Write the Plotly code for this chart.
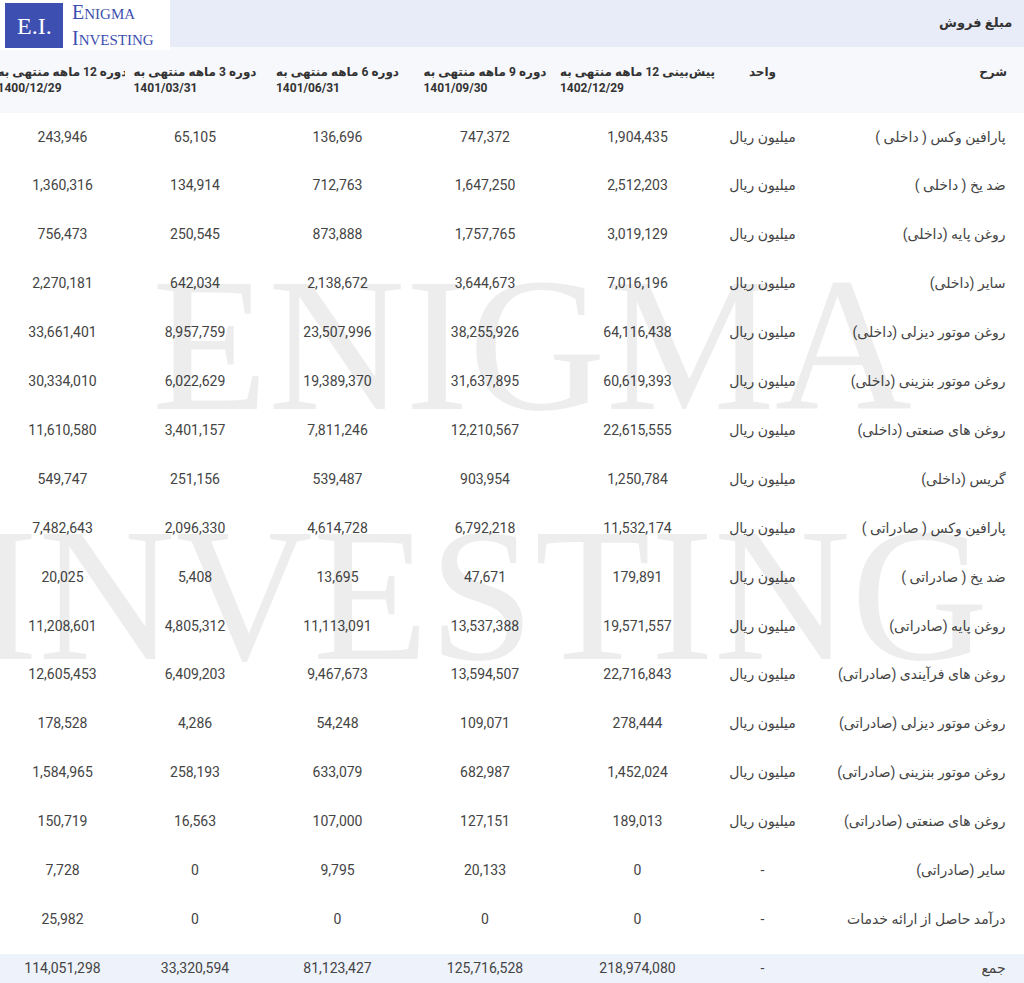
import plotly.graph_objects as go

W, H = 1024, 983

descriptions = [
    "پارافین وکس ( داخلی )", "ضد یخ ( داخلی )", "روغن پایه (داخلی)", "سایر (داخلی)",
    "روغن موتور دیزلی (داخلی)", "روغن موتور بنزینی (داخلی)", "روغن های صنعتی (داخلی)",
    "گریس (داخلی)", "پارافین وکس ( صادراتی )", "ضد یخ ( صادراتی )", "روغن پایه (صادراتی)",
    "روغن های فرآیندی (صادراتی)", "روغن موتور دیزلی (صادراتی)", "روغن موتور بنزینی (صادراتی)",
    "روغن های صنعتی (صادراتی)", "سایر (صادراتی)", "درآمد حاصل از ارائه خدمات", "جمع",
]
units = ["میلیون ریال"] * 15 + ["-", "-", "-"]
forecast_1402 = [1904435, 2512203, 3019129, 7016196, 64116438, 60619393, 22615555, 1250784,
                 11532174, 179891, 19571557, 22716843, 278444, 1452024, 189013, 0, 0, 218974080]
m9_1401 = [747372, 1647250, 1757765, 3644673, 38255926, 31637895, 12210567, 903954,
           6792218, 47671, 13537388, 13594507, 109071, 682987, 127151, 20133, 0, 125716528]
m6_1401 = [136696, 712763, 873888, 2138672, 23507996, 19389370, 7811246, 539487,
           4614728, 13695, 11113091, 9467673, 54248, 633079, 107000, 9795, 0, 81123427]
m3_1401 = [65105, 134914, 250545, 642034, 8957759, 6022629, 3401157, 251156,
           2096330, 5408, 4805312, 6409203, 4286, 258193, 16563, 0, 0, 33320594]
m12_1400 = [243946, 1360316, 756473, 2270181, 33661401, 30334010, 11610580, 549747,
            7482643, 20025, 11208601, 12605453, 178528, 1584965, 150719, 7728, 25982, 114051298]

headers = [
    "<b>دوره 12 ماهه منتهی به<br>1400/12/29</b>",
    "<b>دوره 3 ماهه منتهی به<br>1401/03/31</b>",
    "<b>دوره 6 ماهه منتهی به<br>1401/06/31</b>",
    "<b>دوره 9 ماهه منتهی به<br>1401/09/30</b>",
    "<b>پیش‌بینی 12 ماهه منتهی به<br>1402/12/29</b>",
    "<b>واحد</b>",
    "<br><b>شرح</b>",
]

PAD = "\u00a0\u00a0\u00a0"
fmt = lambda v: [f"{x:,}" for x in v]
n = len(descriptions)
row_fill = ["white"] * (n - 1) + ["#eef2fb"]
col_w = [125, 140, 145, 150, 155, 95, 214]
aligns = ["center"] * 6 + ["right"]

def py(px):
    return 1 - px / H

body = go.Table(
    domain=dict(x=[0, 1], y=[0, py(113)]),
    columnwidth=col_w,
    header=dict(values=[""] * 7, fill_color="white", line_color="white", height=10,
                font=dict(size=1)),
    cells=dict(
        values=[fmt(m12_1400), fmt(m3_1401), fmt(m6_1401), fmt(m9_1401),
                fmt(forecast_1402), units, [d + PAD for d in descriptions]],
        align=aligns,
        fill_color=[row_fill] * 7,
        line_color=[row_fill] * 7,
        font=dict(family="Roboto, DejaVu Sans", size=14, color="#444"),
        height=48.9,
    ),
)
head = go.Table(
    domain=dict(x=[0, 1], y=[py(113), py(57)]),
    columnwidth=col_w,
    header=dict(
        values=headers[:-1] + [headers[-1] + PAD],
        align=aligns,
        fill_color="#f7f8fc",
        line_color="#f7f8fc",
        font=dict(family="Roboto, DejaVu Sans", size=12, color="#333"),
        height=56,
    ),
    cells=dict(values=[[]] * 7),
)
fig = go.Figure([body, head])

shapes = [
    dict(type="rect", xref="paper", yref="paper", x0=0, x1=1, y0=py(47), y1=1,
         fillcolor="#e8ecf8", line_width=0, layer="below"),
    dict(type="rect", xref="paper", yref="paper", x0=0, x1=1, y0=py(113), y1=py(47),
         fillcolor="#f7f8fc", line_width=0, layer="below"),
    dict(type="rect", xref="paper", yref="paper", x0=0, x1=170 / W, y0=py(50), y1=1,
         fillcolor="white", line_width=0, layer="below"),
    dict(type="rect", xref="paper", yref="paper", x0=5 / W, x1=63 / W, y0=py(48), y1=py(3),
         fillcolor="#3d4fb0", line_width=0, layer="below"),
]
annotations = [
    dict(text="<b>مبلغ فروش</b>" + PAD, x=1, y=py(23), xref="paper", yref="paper",
         xanchor="right", yanchor="middle", showarrow=False,
         font=dict(family="Roboto, DejaVu Sans", size=13, color="#333")),
    dict(text="E.I.", x=34 / W, y=py(26), xref="paper", yref="paper", showarrow=False,
         xanchor="center", yanchor="middle",
         font=dict(family="Liberation Serif", size=24, color="white")),
    dict(text="E<span style='font-size:15px'>NIGMA</span><br>I<span style='font-size:15px'>NVESTING</span>",
         x=70 / W, y=py(25), xref="paper", yref="paper", xanchor="left", yanchor="middle",
         align="left", showarrow=False,
         font=dict(family="Liberation Serif", size=20, color="#3d4fb0")),
    dict(text="ENIGMA", x=0.52, y=py(345), xref="paper", yref="paper", showarrow=False,
         xanchor="center", yanchor="middle",
         font=dict(family="Liberation Serif", size=190, color="rgba(0,0,0,0.07)")),
    dict(text="INVESTING", x=0.47, y=py(595), xref="paper", yref="paper", showarrow=False,
         xanchor="center", yanchor="middle",
         font=dict(family="Liberation Serif", size=190, color="rgba(0,0,0,0.07)")),
]

fig.update_layout(width=W, height=H, margin=dict(l=0, r=0, t=0, b=0),
                  paper_bgcolor="white", shapes=shapes, annotations=annotations)
fig.write_html("out.html", config={"displayModeBar": False},
               post_script="document.body.style.margin='0';")
